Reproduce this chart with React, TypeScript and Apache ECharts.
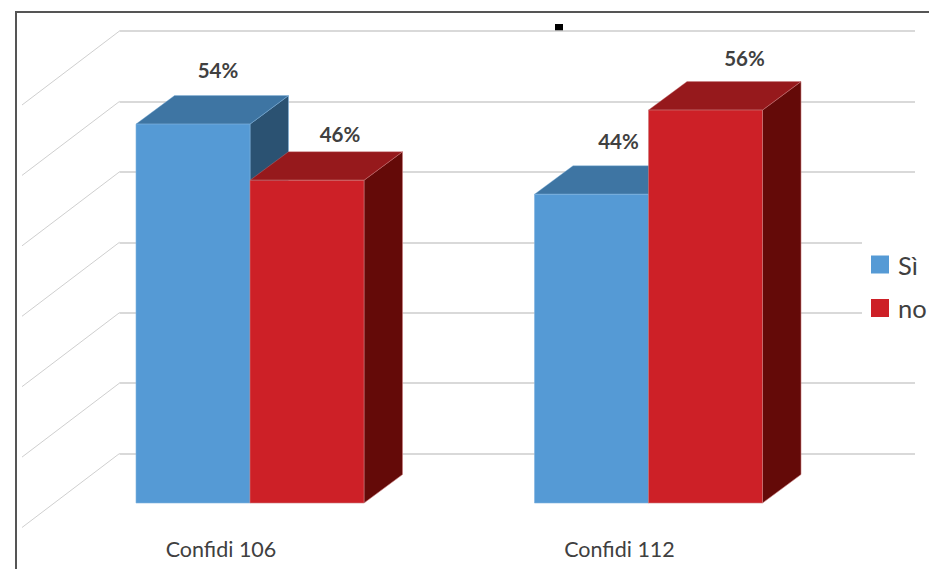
import React, { useEffect, useRef } from "react";
import * as echarts from "echarts";

// Survey results per group, in percent
const categories = ["Confidi 106", "Confidi 112"];
const siValues = [54, 44];
const noValues = [46, 56];
const wallTicks = [0, 10, 20, 30, 40, 50, 60];

// Hand-placed data labels: shift from the centre of the front face's top edge
const siLabelShift = [[25, -54], [27, -53]];
const noLabelShift = [[33, -46], [39, -52]];

const BAR_WIDTH = 114;
const DEPTH_X = 38.5;
const DEPTH_Y = 28.5;
const WALL_DX = 97.5;
const WALL_DY = 74;
const FONT = "Lato, sans-serif";
const INK = "#404040";

type Faces = { front: string; top: string; side: string; edge: string };
const siFaces: Faces = { front: "#559AD5", top: "#3E75A3", side: "#2B5272", edge: "#7FB2DE" };
const noFaces: Faces = { front: "#CD2027", top: "#96191C", side: "#640A08", edge: "#C97A7C" };

// One extruded bar: front face, lid and right side, plus its value label.
// slot is the bar's left edge relative to the category centre, in bar widths.
const boxRenderer = (faces: Faces, slot: number, shifts: number[][]) => (params: any, api: any) => {
  const index = api.value(0);
  const value = api.value(1);
  const [cx, top] = api.coord([index, value]);
  const [, base] = api.coord([index, 0]);
  const x0 = cx + slot * BAR_WIDTH;
  const x1 = x0 + BAR_WIDTH;
  const [sx, sy] = shifts[index];
  return {
    type: "group",
    children: [
      {
        type: "polygon",
        shape: { points: [[x1, top], [x1 + DEPTH_X, top - DEPTH_Y], [x1 + DEPTH_X, base - DEPTH_Y], [x1, base]] },
        style: { fill: faces.side, stroke: faces.edge, lineWidth: 0.6 },
      },
      {
        type: "polygon",
        shape: { points: [[x0, top], [x0 + DEPTH_X, top - DEPTH_Y], [x1 + DEPTH_X, top - DEPTH_Y], [x1, top]] },
        style: { fill: faces.top, stroke: faces.edge, lineWidth: 0.4 },
      },
      {
        type: "rect",
        shape: { x: x0, y: top, width: BAR_WIDTH, height: base - top },
        style: { fill: faces.front, stroke: faces.edge, lineWidth: 0.6 },
      },
      {
        type: "text",
        x: x0 + BAR_WIDTH / 2 + sx,
        y: top + sy,
        style: {
          text: `${value}%`,
          fill: INK,
          font: `bold 20.5px ${FONT}`,
          align: "center",
          verticalAlign: "middle",
        },
      },
    ],
  };
};

// Receding floor-to-wall lines on the left side of the plot
const sideLine = (params: any, api: any) => {
  const [left, y] = api.coord([0, api.value(1)]);
  return {
    type: "line",
    shape: { x1: left, y1: y, x2: left - WALL_DX, y2: y + WALL_DY },
    style: { stroke: "#cfcfcf", lineWidth: 1 },
  };
};

export default function App() {
  const ref = useRef<HTMLDivElement>(null);

  useEffect(() => {
    const chart = echarts.init(ref.current!, undefined, { renderer: "svg" });
    chart.setOption({
      animation: false,
      backgroundColor: "#fff",
      grid: [
        { left: 119.5, width: 795.5, top: 31, height: 422.5 },
        { left: 50.75, width: 797, top: 82, height: 421 },
      ],
      xAxis: [
        { gridIndex: 0, type: "value", min: 0, max: 1, show: false },
        {
          gridIndex: 1,
          type: "category",
          data: categories,
          axisLine: { show: false },
          axisTick: { show: false },
          axisLabel: {
            margin: 35,
            color: INK,
            fontFamily: FONT,
            fontSize: 21.5,
            padding: [0, 58, 0, 0],
          },
        },
      ],
      yAxis: [
        {
          gridIndex: 0,
          type: "value",
          min: 0,
          max: 60,
          interval: 10,
          axisLine: { show: false },
          axisTick: { show: false },
          axisLabel: { show: false },
          splitLine: { show: true, lineStyle: { color: "#cccccc", width: 1.5 } },
        },
        {
          gridIndex: 1,
          type: "value",
          min: 0,
          max: 60,
          interval: 10,
          show: false,
        },
      ],
      legend: {
        data: ["Sì", "no"],
        orient: "vertical",
        left: 862,
        top: 240,
        padding: [11.5, 0, 8, 9],
        itemWidth: 18,
        itemHeight: 18,
        itemGap: 17.5,
        icon: "rect",
        backgroundColor: "#fff",
        textStyle: { color: INK, fontFamily: FONT, fontSize: 25.5, padding: [0, 0, 0, 4] },
      },
      series: [
        {
          type: "custom",
          name: "wall",
          xAxisIndex: 0,
          yAxisIndex: 0,
          silent: true,
          renderItem: sideLine,
          data: wallTicks.map((t) => [0, t]),
        },
        {
          type: "custom",
          name: "Sì",
          xAxisIndex: 1,
          yAxisIndex: 1,
          itemStyle: { color: siFaces.front },
          renderItem: boxRenderer(siFaces, -1, siLabelShift),
          data: siValues.map((v, i) => [i, v]),
        },
        {
          type: "custom",
          name: "no",
          xAxisIndex: 1,
          yAxisIndex: 1,
          itemStyle: { color: noFaces.front },
          renderItem: boxRenderer(noFaces, 0, noLabelShift),
          data: noValues.map((v, i) => [i, v]),
        },
      ],
      graphic: [
        { type: "line", shape: { x1: 16, y1: 12, x2: 929, y2: 12 }, style: { stroke: "#555", lineWidth: 2 } },
        { type: "line", shape: { x1: 16, y1: 11, x2: 16, y2: 569 }, style: { stroke: "#555", lineWidth: 2 } },
        { type: "rect", shape: { x: 555, y: 24, width: 8, height: 7 }, style: { fill: "#000" } },
      ],
    });
    return () => chart.dispose();
  }, []);

  return <div ref={ref} style={{ position: "absolute", left: 0, top: 0, width: 929, height: 569 }} />;
}
